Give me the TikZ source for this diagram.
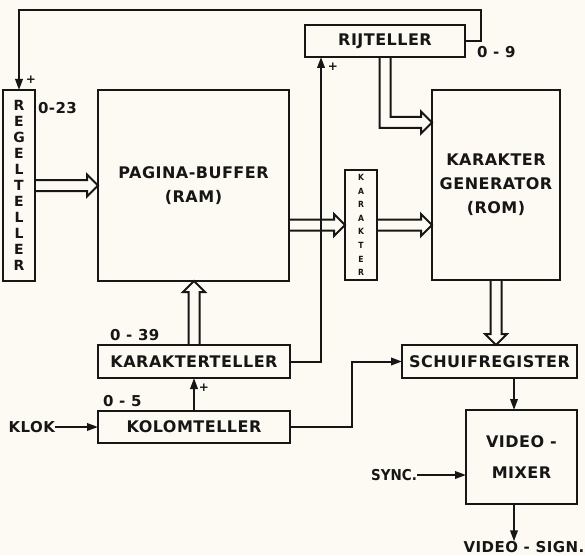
\documentclass[tikz,border=0pt]{standalone}
\usepackage{fontspec}
\setmainfont{DejaVu Sans}[LetterSpace=3]
\newfontfamily\vtcond{DejaVu Sans Condensed}
\usetikzlibrary{arrows.meta,calc}
\definecolor{vtInk}{HTML}{161616}
\definecolor{vtPaper}{HTML}{FCFAF2}
\tikzset{
  vt diagram/.style={
    x=1pt, y=1pt, draw=vtInk, line width=2pt,
    >={Triangle[length=11pt,width=7.5pt]},
    every node/.style={font=\bfseries\fontsize{16}{24}\selectfont,
      text=vtInk, inner sep=0pt, outer sep=0pt}
  },
  vt block/.style={draw=vtInk, line width=2pt, align=center},
  vt signal/.style={draw=vtInk, line width=2pt, ->},
  vt bus/.style={draw=vtInk, line width=2pt, line join=miter},
  vt label/.style={font=\bfseries\fontsize{15}{15}\selectfont},
  vt plus/.style={font=\bfseries\fontsize{12}{12}\selectfont}
}
% hollow bus arrow: start point, direction, length
\newcommand{\VtBus}[3]{%
  \draw[vt bus, shift={(#1)}, rotate=#2]
    (0,-5.5) -- ({#3-11},-5.5) -- ({#3-11},-11) -- (#3,0)
    -- ({#3-11},11) -- ({#3-11},5.5) -- (0,5.5);
}

\begin{document}
\begin{tikzpicture}[vt diagram]
  \fill[vtPaper] (0,0) rectangle (585,555);
  \useasboundingbox (0,0) rectangle (585,555);
  % blocks
  \node[vt block, minimum width=32, minimum height=191,
    font=\bfseries\fontsize{14}{16}\selectfont] (regel) at (19,369.5)
    {R\\E\\G\\E\\L\\T\\E\\L\\L\\E\\R};
  \node[vt block, minimum width=191, minimum height=191] (pagina)
    at (193.5,369.5) {PAGINA-BUFFER\\(RAM)};
  \node[vt block, minimum width=160, minimum height=32] (rij)
    at (385,514) {RIJTELLER};
  \node[vt block, minimum width=32, minimum height=110,
    font=\vtcond\bfseries\fontsize{8.5}{13.6}\selectfont] (kar) at (361,330)
    {K\\A\\R\\A\\K\\T\\E\\R};
  \node[vt block, minimum width=128, minimum height=190] (gen)
    at (496,370) {KARAKTER\\GENERATOR\\(ROM)};
  \node[vt block, minimum width=192, minimum height=33] (ktel)
    at (194,193.5) {KARAKTERTELLER};
  \node[vt block, minimum width=192, minimum height=32] (kolom)
    at (194,128) {KOLOMTELLER};
  \node[vt block, minimum width=175, minimum height=33] (schuif)
    at (489.5,193.5) {SCHUIFREGISTER};
  \node[vt block, minimum width=111, minimum height=94,
    font=\bfseries\fontsize{16}{31}\selectfont] (mixer) at (521.5,98)
    {VIDEO -\\MIXER};

  % texts
  \node[vt label, anchor=west] (regelrange) at (38,447) {0-23};
  \node[vt plus] (regelplus) at (31,475) {+};
  \node[vt label, anchor=west] (rijrange) at (477,503) {0 - 9};
  \node[vt plus] (rijplus) at (333,488) {+};
  \node[vt label, anchor=west] (ktelrange) at (110,220) {0 - 39};
  \node[vt label, anchor=west] (kolomrange) at (103,154) {0 - 5};
  \node[vt plus] (ktelplus) at (204,167) {+};
  \node[vt label, anchor=east] (klok) at (55,128) {KLOK};
  \node[vt label, font=\vtcond\bfseries\fontsize{15}{15}\selectfont,
    anchor=east] (sync) at (417,80) {SYNC.};
  \node[vt label] (vsign) at (524,8) {VIDEO - SIGN.};

  % buses
  \VtBus{regel.east}{0}{63}
  \VtBus{pagina.east |- kar.center}{0}{56}
  \VtBus{kar.east}{0}{55}
  \VtBus{gen.south}{-90}{65}
  \VtBus{ktel.north}{90}{64}
  \coordinate (rgtip) at (gen.west |- 0,432.5);
  \draw[vt bus] ([xshift=-5.5pt]rij.south) |- ([xshift=-11pt,yshift=-5.5pt]rgtip)
    -- ++(0,-5.5) -- (rgtip) -- ++(-11,11) -- ++(0,-5.5)
    -| ([xshift=5.5pt]rij.south);

  % signals
  \draw[vt signal] (rij.east) -| ++(16,31) -| (regel.north);
  \draw[vt signal] (ktel.east) -| ([xshift=16pt]rij.south west);
  \draw[vt signal] (kolom.north) -- (ktel.south);
  \draw[vt signal] (klok.east) -- (kolom.west);
  \draw[vt signal] (kolom.east) -- ++(62,0) |- (schuif.west);
  \draw[vt signal] ([xshift=-7.5pt]mixer.north |- schuif.south)
    -- ([xshift=-7.5pt]mixer.north);
  \draw[vt signal] (sync.east) -- (sync -| mixer.west);
  \draw[vt signal] ([xshift=-7.5pt]mixer.south)
    -- ([xshift=-7.5pt]mixer.south |- vsign.north);
\end{tikzpicture}
\end{document}
